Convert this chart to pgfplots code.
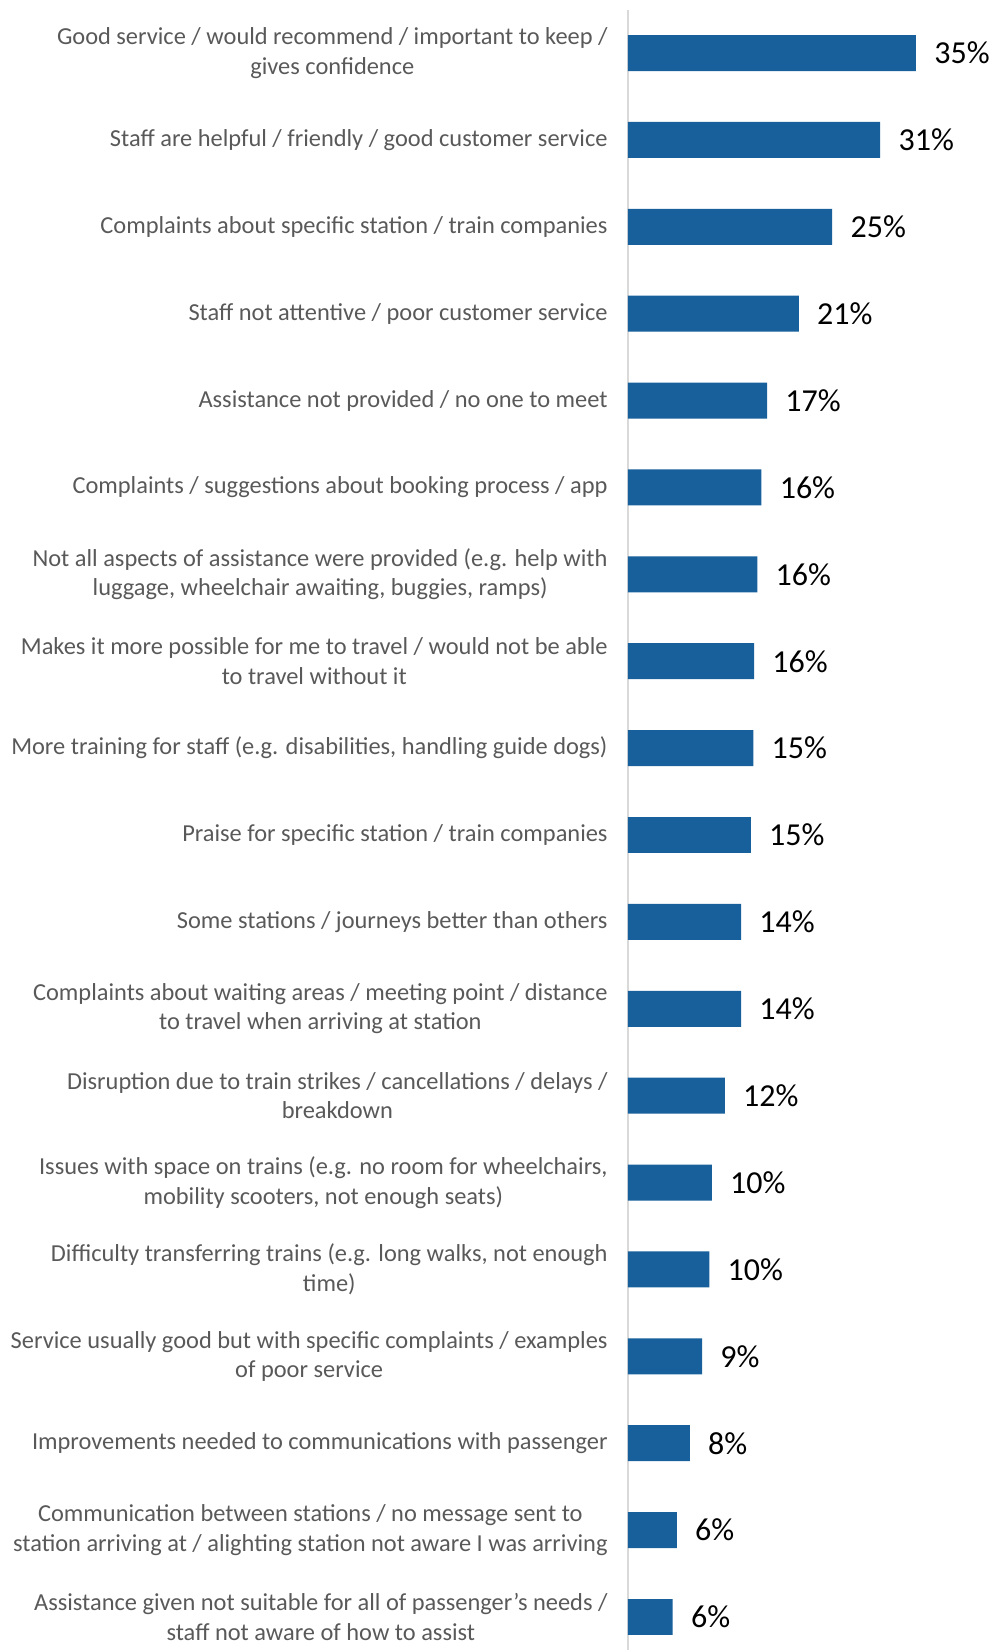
\documentclass[border=0pt]{standalone}
\usepackage{fontspec}
\setmainfont{Carlito}
\usepackage{pgfplots}
\pgfplotsset{compat=1.18}
\definecolor{barblue}{RGB}{23,96,155}
\definecolor{labgray}{RGB}{89,89,89}
\definecolor{axgray}{RGB}{217,217,217}

\begin{document}
\begin{tikzpicture}
\begin{axis}[
  xbar,
  scale only axis,
  width=181pt, height=820pt,
  xmin=0, xmax=44.5,
  ymin=-0.495, ymax=18.38,
  y dir=reverse,
  bar width=0.414,
  axis x line=none,
  axis y line*=left,
  y axis line style={draw=axgray, line width=1pt},
  ytick={0,...,18},
  major tick length=0pt,
  yticklabels={
    {Good service / would recommend / important to keep /\\ gives confidence},
    {Staff are helpful / friendly / good customer service},
    {Complaints about specific station / train companies},
    {Staff not attentive / poor customer service},
    {Assistance not provided / no one to meet},
    {Complaints / suggestions about booking process / app},
    {Not all aspects of assistance were provided (e.g. help with\\ luggage, wheelchair awaiting, buggies, ramps)},
    {Makes it more possible for me to travel / would not be able\\ to travel without it},
    {More training for staff (e.g. disabilities, handling guide dogs)},
    {Praise for specific station / train companies},
    {Some stations / journeys better than others},
    {Complaints about waiting areas / meeting point / distance\\ to travel when arriving at station},
    {Disruption due to train strikes / cancellations / delays /\\ breakdown},
    {Issues with space on trains (e.g. no room for wheelchairs,\\ mobility scooters, not enough seats)},
    {Difficulty transferring trains (e.g. long walks, not enough\\ time)},
    {Service usually good but with specific complaints / examples\\ of poor service},
    {Improvements needed to communications with passenger},
    {Communication between stations / no message sent to\\ station arriving at / alighting station not aware I was arriving},
    {Assistance given not suitable for all of passenger's needs /\\ staff not aware of how to assist}
  },
  yticklabel style={align=center, font=\fontsize{12.2}{14.7}\selectfont,
    text=labgray, inner sep=0pt, xshift=-10pt},
  point meta=explicit symbolic,
  nodes near coords={\pgfplotspointmeta\%},
  nodes near coords style={anchor=west, inner sep=0pt, xshift=9pt,
    font=\fontsize{16}{19}\selectfont, text=black},
  clip=false,
]
\addplot[fill=barblue, draw=none] table[x=v, y=i, meta=lbl] {
i  v     lbl
0  35.4  35
1  31.0  31
2  25.1  25
3  21.0  21
4  17.1  17
5  16.4  16
6  15.9  16
7  15.5  16
8  15.4  15
9  15.1  15
10 13.9  14
11 13.9  14
12 11.9  12
13 10.3  10
14 10.0  10
15 9.1   9
16 7.6   8
17 6.0   6
18 5.5   6
};
\end{axis}
\pgfresetboundingbox
\path[use as bounding box] ([xshift=-314pt,yshift=-0.5pt]current axis.south west)
  rectangle ([xshift=2pt,yshift=5pt]current axis.north east);
\end{tikzpicture}
\end{document}
